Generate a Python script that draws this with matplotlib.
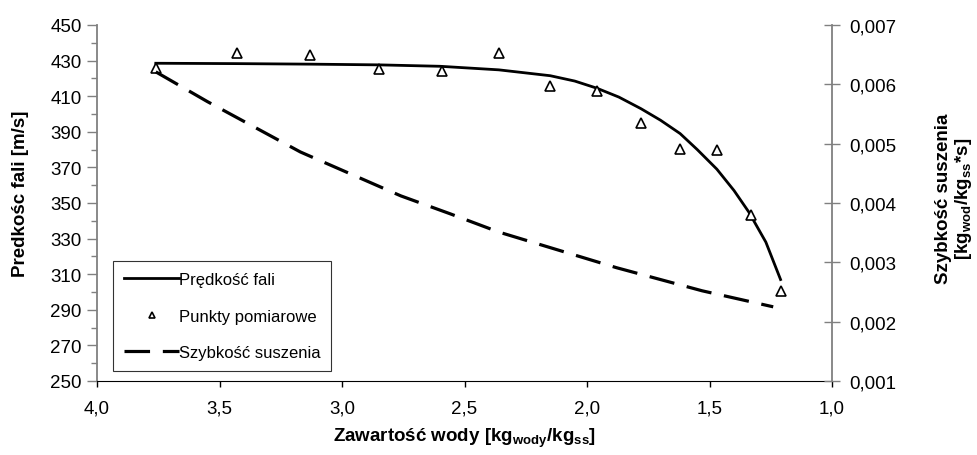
import matplotlib
matplotlib.use("Agg")
import matplotlib.pyplot as plt
from matplotlib.ticker import FuncFormatter, MultipleLocator

plt.rcParams["font.family"] = ["Liberation Sans", "DejaVu Sans"]

# measured points (water content vs wave speed)
x_pts = [3.76, 3.43, 3.13, 2.85, 2.59, 2.36, 2.15, 1.96, 1.78, 1.62, 1.47, 1.33, 1.21]
v_pts = [426, 434, 433, 425, 424, 434, 415.5, 413, 395, 380.5, 380, 343.5, 300.5]

# fitted wave speed curve
x_fit = [3.76, 3.43, 3.13, 2.85, 2.60, 2.36, 2.15, 2.05, 1.96, 1.87, 1.78, 1.70, 1.62,
         1.55, 1.47, 1.40, 1.34, 1.27, 1.21]
v_fit = [428.5, 428.3, 428.0, 427.6, 426.8, 424.8, 421.5, 418.5, 414.5, 409.5, 403, 396.5,
         389, 380, 369, 357, 345, 328, 307]

# drying rate curve
x_dry = [3.76, 3.55, 3.17, 2.76, 2.56, 2.36, 1.88, 1.53, 1.24]
r_dry = [0.00621, 0.00571, 0.00486, 0.00412, 0.00382, 0.00351, 0.00291, 0.00252, 0.00225]

comma = lambda fmt: FuncFormatter(lambda v, p: (fmt % v).replace(".", ","))

FS = 13.5

fig = plt.figure(figsize=(9.77, 4.56), dpi=100)
ax = fig.add_axes([0.0993, 0.1623, 0.7523, 0.7807])
ax2 = ax.twinx()

l1, = ax.plot(x_fit, v_fit, "-", color="black", lw=2.0, label="Prędkość fali")
l2, = ax.plot(x_pts, v_pts, "^", color="black", mfc="white", mec="black", ms=6.5, mew=1.2,
              ls="none", label="Punkty pomiarowe")
l3, = ax2.plot(x_dry, r_dry, color="black", lw=2.3, dashes=(8, 4), label="Szybkość suszenia")

ax.set_xlim(4.0, 1.0)
ax.set_ylim(250, 450)
ax2.set_ylim(0.001, 0.007)
ax.xaxis.set_major_locator(MultipleLocator(0.5))
ax.yaxis.set_major_locator(MultipleLocator(20, offset=10))
ax.yaxis.set_minor_locator(MultipleLocator(20))
ax2.yaxis.set_major_locator(MultipleLocator(0.001))
ax.xaxis.set_major_formatter(comma("%.1f"))
ax.yaxis.set_major_formatter(comma("%.0f"))
ax2.yaxis.set_major_formatter(comma("%.3f"))

for a in (ax, ax2):
    a.spines["top"].set_visible(False)
ax.spines["right"].set_visible(False)
ax.spines["left"].set_color("#808080")
ax.spines["left"].set_linewidth(1.3)
ax.spines["bottom"].set_color("black")
ax2.spines["left"].set_visible(False)
ax2.spines["bottom"].set_visible(False)
ax2.spines["right"].set_color("#808080")
ax2.spines["right"].set_linewidth(1.3)

ax.tick_params(axis="x", direction="out", length=4, width=1, labelsize=FS, pad=9)
ax.tick_params(axis="y", which="major", direction="out", length=7, width=1, color="#808080",
               labelsize=FS, pad=4)
ax.tick_params(axis="y", which="minor", direction="out", length=4, width=1, color="#808080")
ax2.tick_params(axis="y", direction="inout", length=11, width=1, color="#808080",
                labelsize=FS, pad=7)

fig.text(0.021, 0.575, "Predkośc fali [m/s]", rotation=90, ha="center", va="center",
         fontsize=FS, fontweight="bold")
fig.text(0.977, 0.565,
         "Szybkość suszenia\n[kg$_{\\mathregular{wod}}$/kg$_{\\mathregular{ss}}$*s]",
         rotation=90, ha="center", va="center", multialignment="center",
         fontsize=FS, fontweight="bold", linespacing=1.05)
fig.text(0.475, 0.038, "Zawartość wody [kg$_{\\mathregular{wody}}$/kg$_{\\mathregular{ss}}$]",
         ha="center", va="center", fontsize=FS, fontweight="bold")

leg = ax.legend(handles=[l1, l2, l3], loc="lower left", bbox_to_anchor=(0.022, 0.028),
                frameon=True, fancybox=False, edgecolor="black", fontsize=12,
                handlelength=3.3, handletextpad=0.0, labelspacing=1.3, borderpad=0.65,
                markerscale=0.65, borderaxespad=0)
leg.get_frame().set_linewidth(0.8)

fig.savefig("out.png", dpi=100)
